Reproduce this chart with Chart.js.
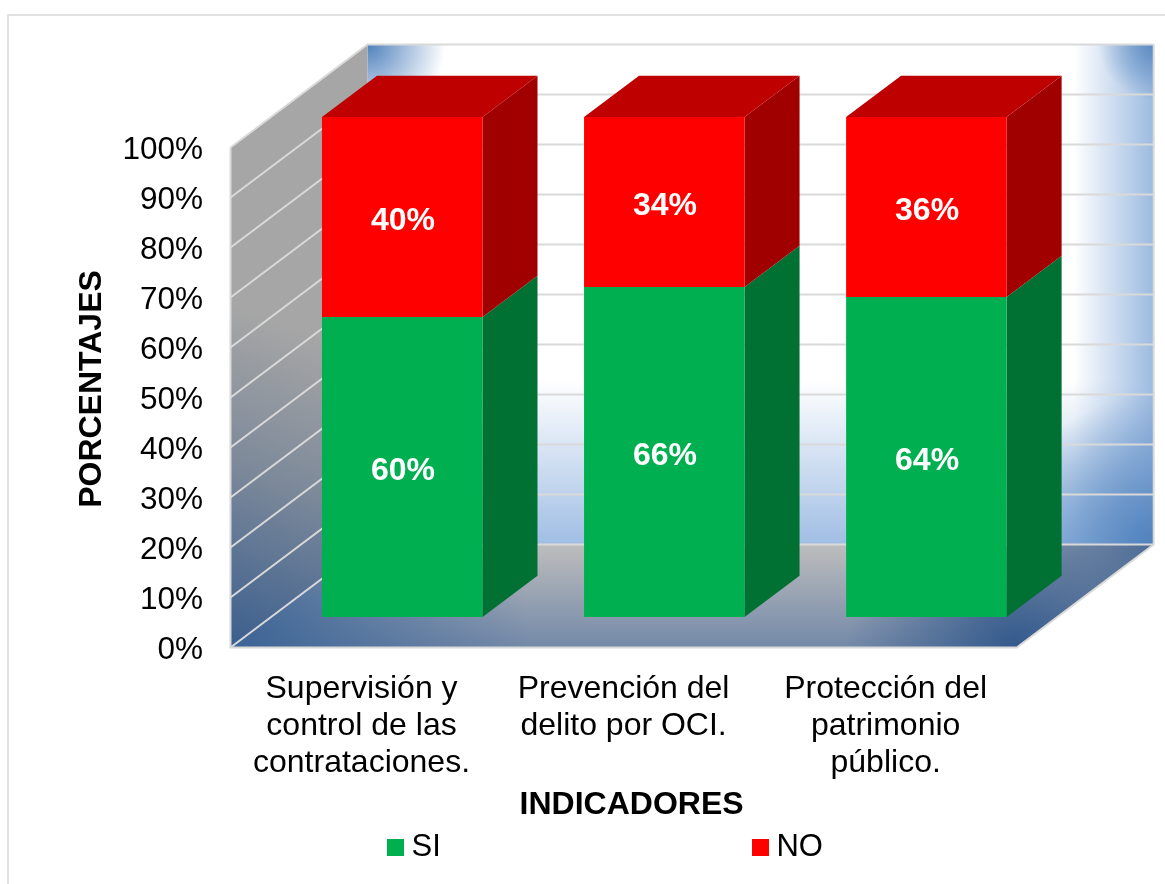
<!DOCTYPE html>
<html>
<head>
<meta charset="utf-8">
<style>html,body{margin:0;padding:0;background:#fff}canvas{display:block}</style>
<script src="https://cdn.jsdelivr.net/npm/chart.js@4"></script>
</head>
<body>
<canvas id="c" width="1165" height="884"></canvas>
<script>
const categories = [["Supervisión y","control de las","contrataciones."],["Prevención del","delito por OCI."],["Protección del","patrimonio","público."]];
const siValues = [60, 66, 64];
const noValues = [40, 34, 36];
const yTicks = [0,10,20,30,40,50,60,70,80,90,100];
const FONT = '"Liberation Sans", Arial, sans-serif';

function swatch(color){
  const s=document.createElement('canvas'); s.width=17; s.height=17;
  const g=s.getContext('2d'); g.fillStyle=color; g.fillRect(0,0,17,17); return s;
}
function poly(ctx,pts){ctx.beginPath();pts.forEach((p,i)=>i?ctx.lineTo(p[0],p[1]):ctx.moveTo(p[0],p[1]));ctx.closePath();}
function corner(ctx,x,y,r,rgb,a){
  const g=ctx.createRadialGradient(x,y,0,x,y,r);
  g.addColorStop(0,`rgba(${rgb},${a})`);g.addColorStop(1,`rgba(${rgb},0)`);
  ctx.fillStyle=g;ctx.fill();
}
const WALL={dx:137,dy:103}, BAR={ox:40.7,oy:30.5,dx:55,dy:41.3};
const sideColors=['#007033','#a00000'], topColor='#bf0000';

const scene={
  id:'scene',
  beforeDraw(chart){
    const a=chart.chartArea, sx=chart.scales.x, sy=chart.scales.y, L=chart.legend, c=chart.ctx;
    sx.right=a.right+16; sx.left=a.left; sx.bottom=884;
    sy.top=a.top-17;
    L.left=53; L.right=1165; L.top=512.5; L.bottom=884;
    c.save();
    c.strokeStyle='#d9d9d9';c.lineWidth=1.5;
    c.beginPath();c.moveTo(8,884);c.lineTo(8,15);c.lineTo(1165,15);c.stroke();
    c.restore();
  },
  beforeDatasetsDraw(chart){
    const a=chart.chartArea, sy=chart.scales.y, c=chart.ctx;
    const l=a.left,r=a.right,t=a.top,b=a.bottom,dx=WALL.dx,dy=WALL.dy;
    const bl=l+dx,br=r+dx,bt=t-dy,bb=b-dy;
    c.save();
    // back wall
    poly(c,[[bl,bt],[br,bt],[br,bb],[bl,bb]]);
    c.fillStyle='#fff';c.fill();
    let g=c.createLinearGradient(0,380,0,bb);
    g.addColorStop(0,'rgba(160,190,228,0)');g.addColorStop(1,'rgba(160,190,228,1)');c.fillStyle=g;c.fill();
    g=c.createLinearGradient(br-80,0,br,0);
    g.addColorStop(0,'rgba(150,182,222,0)');g.addColorStop(1,'rgba(150,182,222,.95)');c.fillStyle=g;c.fill();
    corner(c,bl,bt,78,'79,129,189',1);
    corner(c,br,bt,55,'79,129,189',.85);
    corner(c,br,bb,150,'79,129,189',1);
    corner(c,bl,bb,150,'79,129,189',1);
    // left wall
    poly(c,[[l,t],[bl,bt],[bl,bb],[l,b]]);
    g=c.createLinearGradient(l,b,l+115,b-300);
    g.addColorStop(0,'#3a5e8e');g.addColorStop(.55,'#7e8a9a');g.addColorStop(1,'#a6a6a6');
    c.fillStyle=g;c.fill();
    // floor
    poly(c,[[l,b],[r,b],[br,bb],[bl,bb]]);
    g=c.createLinearGradient(0,bb,0,b);
    g.addColorStop(0,'#bdbdbd');g.addColorStop(1,'#7389a8');
    c.fillStyle=g;c.fill();
    corner(c,l,b,300,'60,100,150',1);
    corner(c,r,b,170,'52,90,140',1);
    corner(c,br,bb,150,'60,96,145',.9);
    // grid
    c.strokeStyle='#d9d9d9';c.lineWidth=2;
    yTicks.forEach(v=>{
      const y=sy.getPixelForValue(v);
      c.beginPath();c.moveTo(l,y);c.lineTo(bl,y-dy);c.lineTo(br,y-dy);c.stroke();
    });
    c.beginPath();c.moveTo(l,t);c.lineTo(l,b);c.lineTo(r,b);c.lineTo(br,bb);c.lineTo(br,bt);c.stroke();
    // bar side and top faces, from the library's own bar elements
    chart.data.datasets.forEach((ds,di)=>{
      chart.getDatasetMeta(di).data.forEach(el=>{
        const xr=el.x+el.width/2+BAR.ox, xl=el.x-el.width/2+BAR.ox, yt=el.y-BAR.oy, yb=el.base-BAR.oy;
        poly(c,[[xr,yt],[xr+BAR.dx,yt-BAR.dy],[xr+BAR.dx,yb-BAR.dy],[xr,yb]]);
        c.fillStyle=sideColors[di];c.fill();
        if(di===chart.data.datasets.length-1){
          poly(c,[[xl,yt],[xl+BAR.dx,yt-BAR.dy],[xr+BAR.dx,yt-BAR.dy],[xr,yt]]);
          c.fillStyle=topColor;c.fill();
        }
      });
    });
    c.restore();
    c.save();
    c.translate(BAR.ox,-BAR.oy);
  },
  afterDatasetsDraw(chart){
    const c=chart.ctx;
    c.restore();
    c.save();
    c.fillStyle='#fff';c.font='bold 32px '+FONT;c.textAlign='center';c.textBaseline='middle';
    chart.data.datasets.forEach((ds,di)=>{
      chart.getDatasetMeta(di).data.forEach((el,i)=>{
        c.fillText(ds.data[i]+'%',el.x+BAR.ox+0.7,(el.y+el.base)/2-BAR.oy+4);
      });
    });
    c.restore();
  }
};

new Chart(document.getElementById('c'),{
  type:'bar',
  data:{labels:categories,datasets:[
    {label:'SI',data:siValues,backgroundColor:'#00b050',clip:false,borderWidth:0},
    {label:'NO',data:noValues,backgroundColor:'#ff0000',clip:false,borderWidth:0}
  ]},
  options:{
    responsive:false,animation:false,
    layout:{padding:{top:147.5,right:0,left:0,bottom:0}},
    datasets:{bar:{categoryPercentage:1,barPercentage:0.6125}},
    plugins:{
      tooltip:{enabled:false},
      legend:{
        position:'bottom',align:'center',maxHeight:40,
        labels:{
          usePointStyle:true,pointStyleWidth:1,padding:319,color:'#000',
          font:{family:FONT,size:31},
          generateLabels(chart){
            return Chart.defaults.plugins.legend.labels.generateLabels(chart).map((it,i)=>{
              it.pointStyle=swatch(chart.data.datasets[i].backgroundColor);return it;
            });
          }
        }
      }
    },
    scales:{
      x:{
        stacked:true,
        grid:{display:false,drawTicks:false},border:{display:false},
        ticks:{color:'#000',font:{family:FONT,size:32,lineHeight:37/32},padding:23,maxRotation:0,minRotation:0,autoSkip:false},
        title:{display:true,text:'INDICADORES',color:'#000',font:{family:FONT,size:32,weight:'bold',lineHeight:1.2},padding:{top:0,bottom:60}},
        afterFit(s){s.height=236.5-s.chart.legend.height;}
      },
      y:{
        stacked:true,min:0,max:100,
        grid:{display:false,drawTicks:false},border:{display:false},
        ticks:{color:'#000',font:{family:FONT,size:31.5},padding:27.5,stepSize:10,autoSkip:false,labelOffset:3,callback:v=>v+'%'},
        title:{display:true,text:'PORCENTAJES',color:'#000',font:{family:FONT,size:32,weight:'bold',lineHeight:1.2},padding:{top:72.8,bottom:0}},
        afterFit(s){s.width=230.5;}
      },
      // empty axis that reserves the room taken by the chart's depth on the right
      yDepth:{
        axis:'y',position:'right',display:true,
        grid:{display:false,drawTicks:false},border:{display:false},ticks:{display:false},
        afterFit(s){s.width=148.3;}
      }
    }
  },
  plugins:[scene]
});
</script>
</body>
</html>
